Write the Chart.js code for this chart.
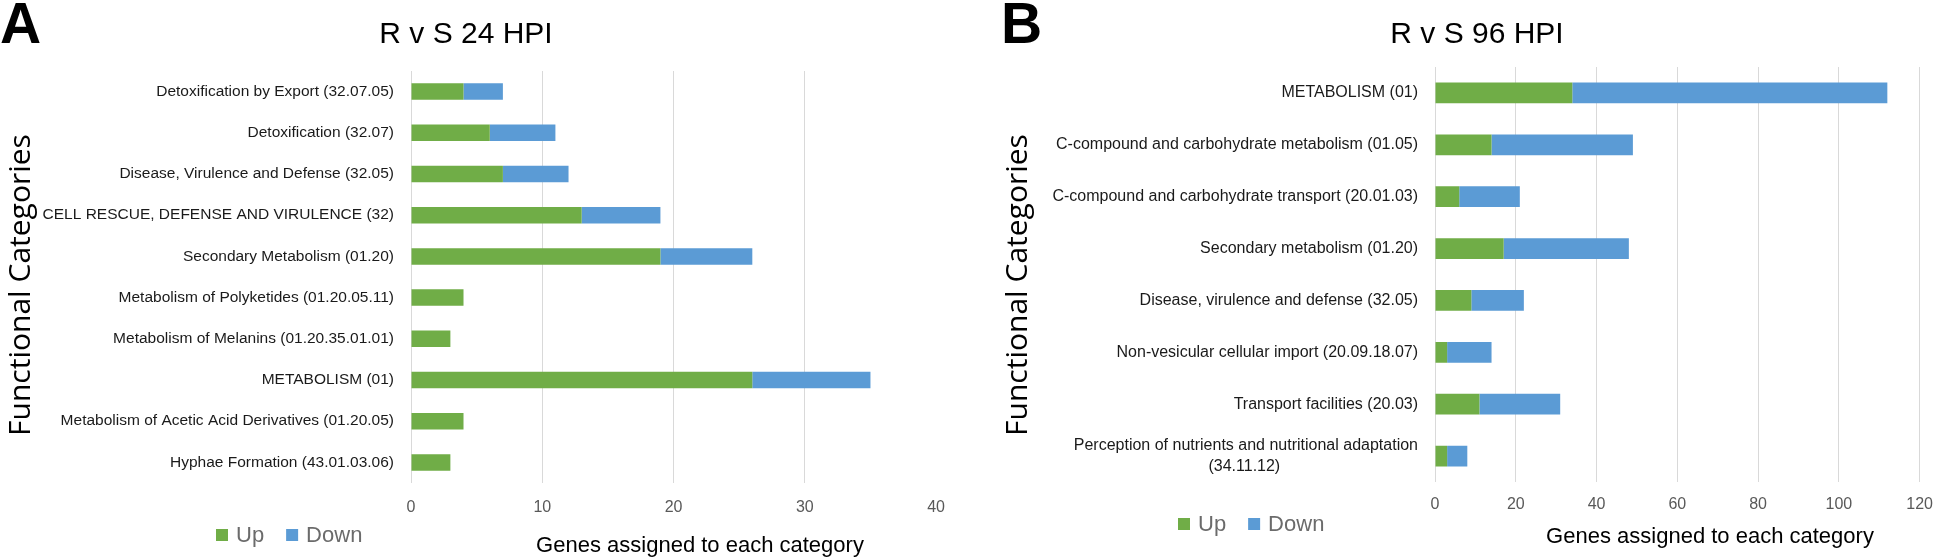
<!DOCTYPE html>
<html>
<head>
<meta charset="utf-8">
<script src="https://cdn.jsdelivr.net/npm/chart.js@4.4.1/dist/chart.umd.min.js"></script>
<style>
html, body { margin: 0; padding: 0; background: #fff; }
#wrap { position: relative; width: 1946px; height: 557px; }
canvas { position: absolute; top: 0; }
#chartA { left: 0; }
#chartB { left: 960px; }
</style>
</head>
<body>
<div id="wrap">
    <canvas id="chartA" width="960" height="557"></canvas>
    <canvas id="chartB" width="986" height="557"></canvas>
</div>
<script>
// panel A - R v S 24 HPI
const categories24 = [
    'Detoxification by Export (32.07.05)',
    'Detoxification (32.07)',
    'Disease, Virulence and Defense (32.05)',
    'CELL RESCUE, DEFENSE AND VIRULENCE (32)',
    'Secondary Metabolism (01.20)',
    'Metabolism of Polyketides (01.20.05.11)',
    'Metabolism of Melanins (01.20.35.01.01)',
    'METABOLISM (01)',
    'Metabolism of Acetic Acid Derivatives (01.20.05)',
    'Hyphae Formation (43.01.03.06)'
];
const up24 = [4, 6, 7, 13, 19, 4, 3, 26, 4, 3];
const down24 = [3, 5, 5, 6, 7, 0, 0, 9, 0, 0];
const ticks24 = [0, 10, 20, 30, 40];

// panel B - R v S 96 HPI
const categories96 = [
    'METABOLISM (01)',
    'C-compound and carbohydrate metabolism (01.05)',
    'C-compound and carbohydrate transport (20.01.03)',
    'Secondary metabolism (01.20)',
    'Disease, virulence and defense (32.05)',
    'Non-vesicular cellular import (20.09.18.07)',
    'Transport facilities (20.03)',
    ['Perception of nutrients and nutritional adaptation', '(34.11.12)']
];
const up96 = [34, 14, 6, 17, 9, 3, 11, 3];
const down96 = [78, 35, 15, 31, 13, 11, 20, 5];
const ticks96 = [0, 20, 40, 60, 80, 100, 120];

const seriesNames = ['Up', 'Down'];
const seriesColors = ['#70AD47', '#5B9BD5'];

const SANS = '"Liberation Sans", Arial, sans-serif';

// second line of a wrapped label sits centred under the first one
function centerLines(label, size) {
    if (!Array.isArray(label)) return label;
    const m = document.createElement('canvas').getContext('2d');
    m.font = size + 'px ' + SANS;
    const widest = Math.max(...label.map(l => m.measureText(l).width));
    return label.map(l => {
        const n = Math.round((widest - m.measureText(l).width) / 2 / m.measureText('\u00a0').width);
        return l + '\u00a0'.repeat(n);
    });
}

// letter, title, axis titles and legend, placed like the original figure
const panelText = {
    id: 'panelText',
    afterDraw(chart, args, opts) {
        const ctx = chart.ctx;
        ctx.save();
        ctx.fillStyle = '#000';
        ctx.textBaseline = 'alphabetic';
        ctx.textAlign = 'left';
        ctx.font = 'bold 57px ' + SANS;
        ctx.fillText(opts.letter, opts.letterX, 43);

        ctx.textAlign = 'center';
        ctx.font = '30px ' + SANS;
        ctx.fillText(opts.title, opts.titleX, 43);

        ctx.font = '22px ' + SANS;
        ctx.fillText(opts.xTitle, opts.xTitleX, opts.xTitleY);

        // y axis title
        ctx.save();
        ctx.translate(opts.yTitleX, opts.yTitleY);
        ctx.rotate(-Math.PI / 2);
        ctx.textBaseline = 'middle';
        ctx.font = '30px "Open Sans", "DejaVu Sans", sans-serif';
        ctx.fillText(opts.yTitle, 0, 0);
        ctx.restore();

        ctx.font = '22px ' + SANS;
        ctx.textAlign = 'left';
        ctx.textBaseline = 'middle';
        let x = opts.legendX;
        chart.data.datasets.forEach(ds => {
            ctx.fillStyle = ds.backgroundColor;
            ctx.fillRect(x, opts.legendY - 6, 12, 12);
            x += 20;
            ctx.fillStyle = '#6b6b6b';
            ctx.fillText(ds.label, x, opts.legendY + 1);
            x += ctx.measureText(ds.label).width + 22;
        });
        ctx.restore();
    }
};

function makeChart(id, labels, up, down, ticks, layout) {
    const last = ticks.length - 1;
    new Chart(document.getElementById(id), {
        type: 'bar',
        data: {
            labels: labels.map(l => centerLines(l, layout.labelSize)),
            datasets: [
                {label: seriesNames[0], data: up, backgroundColor: seriesColors[0]},
                {label: seriesNames[1], data: down, backgroundColor: seriesColors[1]}
            ]
        },
        options: {
            indexAxis: 'y',
            responsive: false,
            animation: false,
            devicePixelRatio: 1,
            categoryPercentage: 0.8,
            barPercentage: 0.5,
            layout: {padding: {top: layout.top, right: layout.right, left: 0, bottom: 0}},
            scales: {
                x: {
                    stacked: true,
                    min: ticks[0],
                    max: ticks[last],
                    afterFit: scale => { scale.height = layout.xHeight; },
                    border: {display: false},
                    grid: {
                        drawTicks: false,
                        lineWidth: 1,
                        color: c => (layout.hideLastGrid && c.index === last) ? 'rgba(0,0,0,0)' : '#d9d9d9'
                    },
                    ticks: {
                        stepSize: ticks[1] - ticks[0],
                        padding: layout.tickPad,
                        maxRotation: 0,
                        color: '#595959',
                        font: {family: SANS, size: 16}
                    }
                },
                y: {
                    stacked: true,
                    afterFit: scale => { scale.width = layout.yWidth; },
                    border: {display: false},
                    grid: {display: false, drawTicks: false},
                    ticks: {
                        autoSkip: false,
                        padding: 17,
                        color: '#1a1a1a',
                        font: {family: SANS, size: layout.labelSize, lineHeight: 1.35}
                    }
                }
            },
            plugins: {
                legend: {display: false},
                tooltip: {enabled: false},
                panelText: layout.text
            }
        },
        plugins: [panelText]
    });
}

makeChart('chartA', categories24, up24, down24, ticks24, {
    top: 71, right: 23, xHeight: 74, yWidth: 411, tickPad: 15, labelSize: 15.5, hideLastGrid: true,
    text: {letter: 'A', letterX: 0, title: 'R v S 24 HPI', titleX: 466,
           yTitle: 'Functional Categories', yTitleX: 21, yTitleY: 285,
           xTitle: 'Genes assigned to each category', xTitleX: 700, xTitleY: 552,
           legendX: 216, legendY: 535}
});

makeChart('chartB', categories96, up96, down96, ticks96, {
    top: 67, right: 13, xHeight: 75, yWidth: 475, tickPad: 13, labelSize: 16, hideLastGrid: false,
    text: {letter: 'B', letterX: 41, title: 'R v S 96 HPI', titleX: 517,
           yTitle: 'Functional Categories', yTitleX: 58, yTitleY: 285,
           xTitle: 'Genes assigned to each category', xTitleX: 750, xTitleY: 543,
           legendX: 218, legendY: 524}
});
</script>
</body>
</html>
